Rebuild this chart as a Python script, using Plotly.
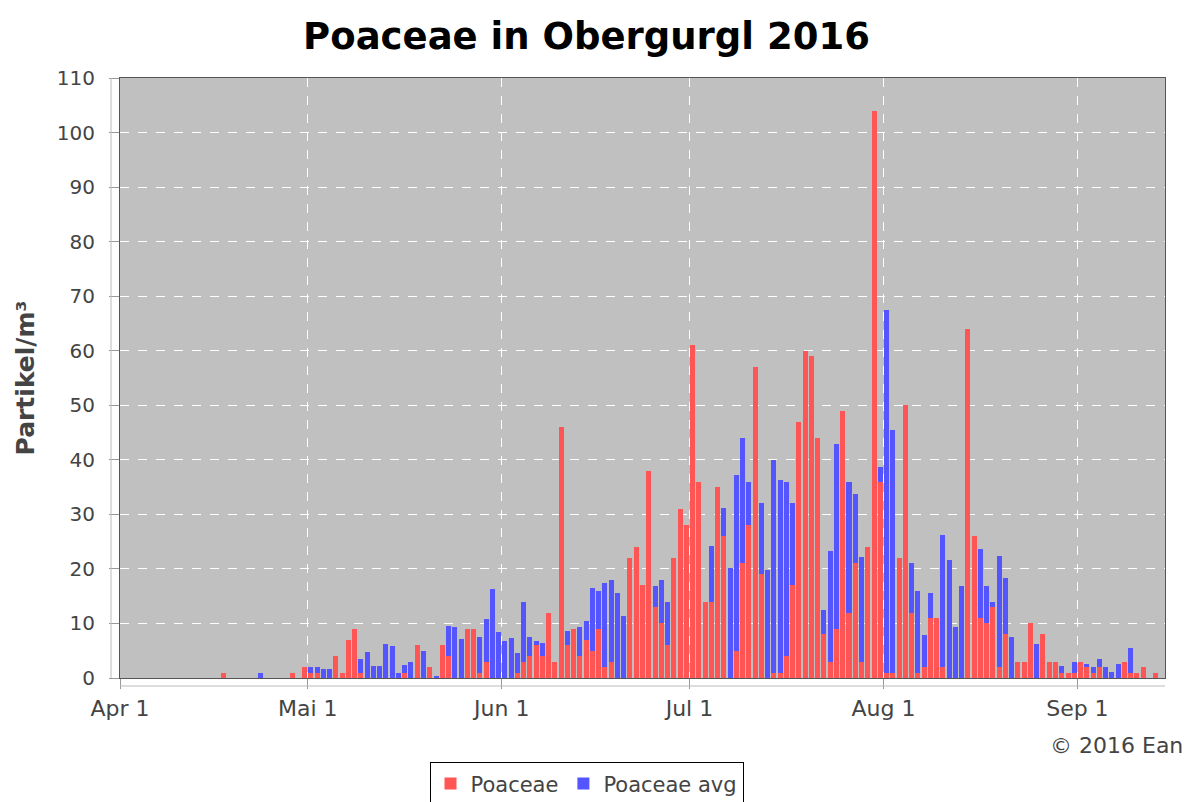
import pandas as pd
import plotly.graph_objects as go

start_date = "2016-04-01"

poaceae = [
    0, 0, 0, 0, 0, 0, 0, 0, 0, 0, 0, 0, 0, 0, 0, 0, 1, 0, 0, 0,
    0, 0, 0, 0, 0, 0, 0, 1, 0, 2, 1, 1, 0, 0, 4, 1, 7, 9, 1, 0,
    0, 0, 0, 0, 0, 1, 0, 6, 0, 2, 0, 6, 4, 0, 0, 9, 9, 1, 3, 0,
    0, 0, 0, 1, 3, 4, 6, 4, 12, 3, 46, 6, 9, 4, 7, 5, 9, 2, 3, 0,
    0, 22, 24, 17, 38, 13, 10, 6, 22, 31, 28, 61, 36, 14, 14, 35, 26, 0, 5, 21,
    28, 57, 19, 0, 1, 1, 4, 17, 47, 60, 59, 44, 8, 3, 9, 49, 12, 21, 3, 24,
    104, 36, 1, 1, 22, 50, 12, 1, 2, 11, 11, 2, 0, 0, 0, 64, 26, 11, 10, 13,
    2, 8, 0, 3, 3, 10, 0, 8, 3, 3, 1, 1, 1, 3, 2, 1, 2, 0, 0, 0,
    3, 1, 1, 2, 0, 1, 0,
]

poaceae_avg = [
    0, 0, 0, 0, 0, 0, 0, 0, 0, 0, 0, 0, 0, 0, 0, 0, 0, 0, 0, 0,
    0, 0, 1, 0, 0, 0, 0, 0, 0, 1, 2, 2, 1.7, 1.7, 2, 0.5, 1.5, 2, 3.4, 4.7,
    2.2, 2.2, 6.2, 5.9, 0.9, 2.3, 2.9, 2, 5, 1, 0.3, 2, 9.6, 9.3, 7.2, 7, 8, 7.6, 10.8, 16.4,
    8.4, 6.7, 7.3, 4.6, 13.9, 7.5, 6.7, 6.4, 5, 2.5, 8, 8.7, 8.5, 9.4, 10.5, 16.5, 16, 17.4, 18, 15.5,
    11.4, 14, 15, 14, 16, 16.8, 18, 13.9, 17, 20, 20, 25, 22, 12, 24.2, 26, 31.2, 20.2, 37.3, 44,
    36, 41, 32, 19.8, 39.9, 36.3, 35.9, 32, 30, 43, 40, 39, 12.5, 23.2, 42.9, 22, 35.9, 33.8, 22.2, 20,
    30, 38.7, 67.4, 45.5, 12, 20, 21.1, 16, 7.8, 15.6, 9, 26.3, 21.6, 9.4, 16.9, 18, 20, 23.6, 16.9, 13.9,
    22.4, 18.3, 7.5, 2.5, 2, 5, 6.2, 4, 2, 2.5, 2.2, 0.8, 2.9, 2, 2.5, 2, 3.5, 2.1, 1.1, 2.5,
    2, 5.5, 0.5, 1, 0, 0.5, 0,
]

tick_dates = ["2016-04-01", "2016-05-01", "2016-06-01", "2016-07-01", "2016-08-01", "2016-09-01"]
tick_labels = ["Apr 1", "Mai 1", "Jun 1", "Jul 1", "Aug 1", "Sep 1"]
y_ticks = list(range(0, 111, 10))

days = pd.date_range(start_date, periods=len(poaceae), freq="D") + pd.Timedelta(hours=12)
day_ms = 86400000
bar_w = 0.8 * day_ms

RED = "#FF5555"
BLUE = "#5555FF"
FONT = "DejaVu Sans"

# page body has an 8px margin, so the figure is 8px smaller than the window
FIG_W, FIG_H = 1184, 794

fig = go.Figure()
fig.add_trace(go.Bar(x=days, y=poaceae_avg, name="Poaceae avg", marker=dict(color=BLUE, line=dict(width=0)),
                     width=bar_w, legendrank=2))
fig.add_trace(go.Bar(x=days, y=poaceae, name="Poaceae", marker=dict(color=RED, line=dict(width=0)),
                     width=bar_w, legendrank=1))

fig.update_layout(
    width=FIG_W, height=FIG_H,
    margin=dict(l=112, r=27, t=70, b=124, autoexpand=False),
    paper_bgcolor="white",
    plot_bgcolor="#C0C0C0",
    barmode="overlay",
    bargap=0,
    title=dict(text="<b>Poaceae in Obergurgl 2016</b>", x=0.4886, xanchor="center", y=0.965, yanchor="middle",
               font=dict(family=FONT, size=37, color="black")),
    font=dict(family=FONT, size=20, color="#444444"),
    showlegend=True,
    legend=dict(orientation="h", x=0.4886, xanchor="center", xref="container",
                y=0.05, yanchor="top", yref="container",
                bgcolor="white", bordercolor="black", borderwidth=1,
                font=dict(family=FONT, size=21, color="#444444"),
                itemwidth=30, traceorder="normal", tracegroupgap=0),
)

fig.update_xaxes(
    type="date",
    range=["2016-04-01", "2016-09-15"],
    tickmode="array", tickvals=tick_dates, ticktext=tick_labels,
    showgrid=True, gridcolor="white", griddash="dash", gridwidth=1,
    ticks="outside", ticklen=10, tickcolor="#999999", tickwidth=1,
    ticklabelstandoff=1,
    tickfont=dict(family=FONT, size=22, color="#444444"),
    showline=True, linecolor="#555555", linewidth=1, mirror=True,
    zeroline=False, automargin=False,
)
fig.update_yaxes(
    range=[0, 110],
    tickmode="array", tickvals=y_ticks,
    showgrid=True, gridcolor="white", griddash="dash", gridwidth=1,
    ticks="outside", ticklen=10, tickcolor="#999999", tickwidth=1,
    ticklabelstandoff=10,
    tickfont=dict(family=FONT, size=20, color="#444444"),
    showline=True, linecolor="#555555", linewidth=1, mirror=True,
    zeroline=False, automargin=False,
    title=dict(text="<b>Partikel/m³</b>", font=dict(family=FONT, size=25, color="#444444"), standoff=15),
)

# offset axis lines (JFreeChart style)
fig.add_shape(type="line", xref="paper", yref="paper", x0=0, x1=1, y0=-8 / 600, y1=-8 / 600,
              line=dict(color="#BBBBBB", width=1))
fig.add_shape(type="line", xref="paper", yref="paper", x0=-9 / 1045, x1=-9 / 1045, y0=0, y1=1,
              line=dict(color="#BBBBBB", width=1))

fig.add_annotation(text="© 2016 Ean", xref="paper", yref="paper", x=1.019, y=-0.112,
                   xanchor="right", yanchor="middle", showarrow=False,
                   font=dict(family=FONT, size=22, color="#444444"))

fig.write_html("out.html")
